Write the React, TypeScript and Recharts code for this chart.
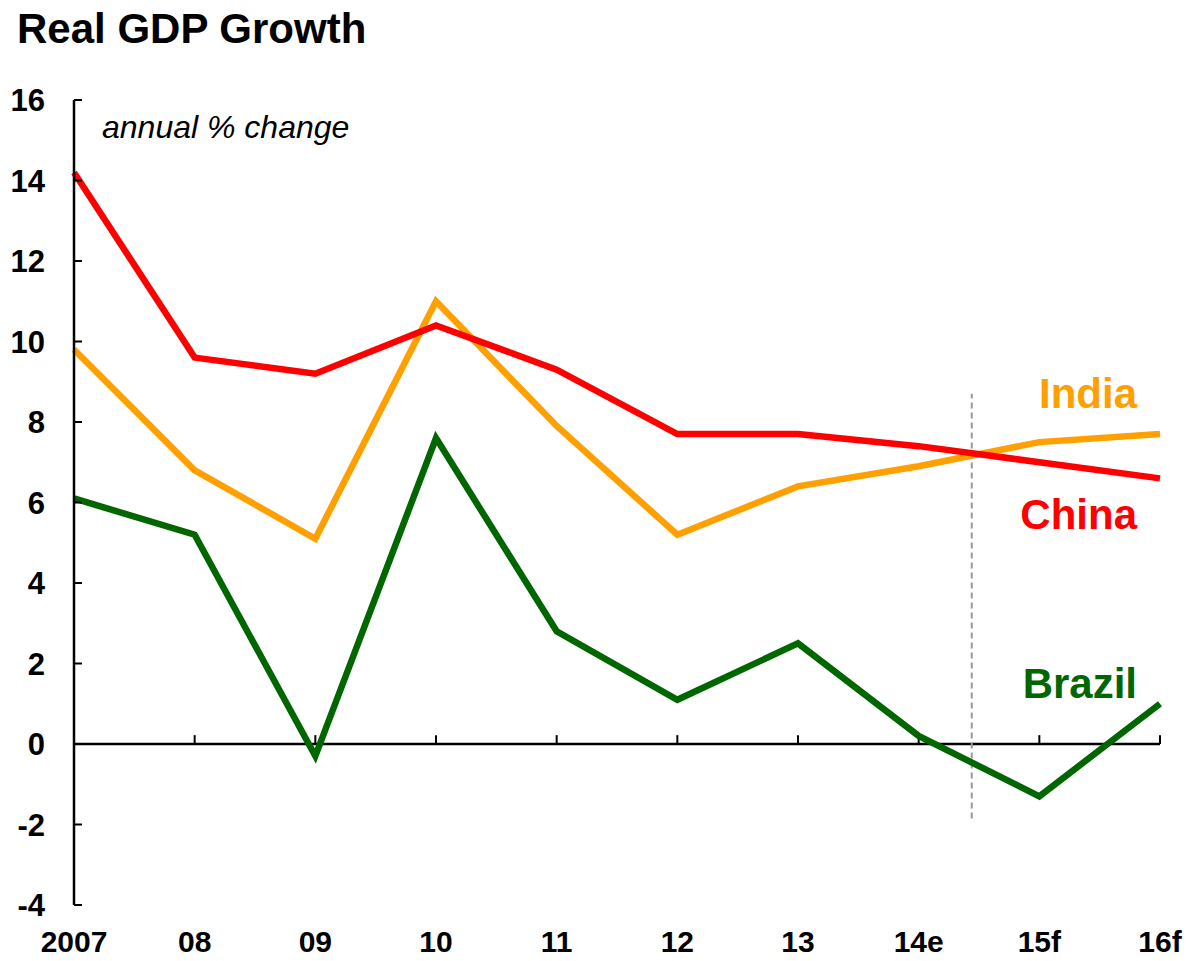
import React from 'react';
import { LineChart, Line, XAxis, YAxis, ReferenceLine, ReferenceDot } from 'recharts';

// Real GDP growth, annual % change
const years = ['2007', '08', '09', '10', '11', '12', '13', '14e', '15f', '16f'];
const china = [14.2, 9.6, 9.2, 10.4, 9.3, 7.7, 7.7, 7.4, 7.0, 6.6];
const india = [9.8, 6.8, 5.1, 11.0, 7.9, 5.2, 6.4, 6.9, 7.5, 7.7];
const brazil = [6.1, 5.2, -0.3, 7.6, 2.8, 1.1, 2.5, 0.2, -1.3, 1.0];
const yTicks = [-4, -2, 0, 2, 4, 6, 8, 10, 12, 14, 16];

// estimate / forecast divider (x in category index units, y range)
const dividerX = 7.44;
const dividerFrom = -1.85;
const dividerTo = 8.7;

// series name labels, placed at the right edge
const seriesLabels = [
  { name: 'India', y: 8.7, color: '#FFA000' },
  { name: 'China', y: 5.7, color: '#FF0000' },
  { name: 'Brazil', y: 1.5, color: '#006600' },
];

const data = years.map((label, i) => ({
  i,
  label,
  china: china[i],
  india: india[i],
  brazil: brazil[i],
}));

const font = '"Liberation Sans", Arial, sans-serif';

const NameLabel = (props: any) => {
  const { cx, cy, name, color } = props;
  return (
    <text
      x={cx - 23}
      y={cy}
      textAnchor="end"
      dominantBaseline="central"
      fill={color}
      fontSize={42}
      fontWeight="bold"
      fontFamily={font}
    >
      {name}
    </text>
  );
};

const App: React.FC = () => {
  return (
    <div style={{ position: 'absolute', left: 0, top: 0, width: 1188, height: 961, background: '#fff', fontFamily: font }}>
      <div style={{ position: 'absolute', left: 17, top: 6, fontSize: 42, lineHeight: '46px', fontWeight: 'bold', color: '#000' }}>
        Real GDP Growth
      </div>
      <div style={{ position: 'absolute', left: 102, top: 111, fontSize: 32, lineHeight: '32px', fontStyle: 'italic', color: '#000' }}>
        annual % change
      </div>
      <LineChart width={1188} height={961} data={data} margin={{ top: 100, right: 28, bottom: 0, left: 0 }}>
        <XAxis
          dataKey="i"
          type="number"
          domain={[0, 9]}
          ticks={data.map((d) => d.i)}
          tickFormatter={(v: number) => years[v]}
          axisLine={false}
          tickLine={false}
          tickSize={0}
          tickMargin={26}
          height={56}
          interval={0}
          tick={{ fill: '#000', fontSize: 30, fontWeight: 'bold', fontFamily: font }}
        />
        <YAxis
          type="number"
          domain={[-4, 16]}
          ticks={yTicks}
          width={74}
          interval={0}
          axisLine={{ stroke: '#000', strokeWidth: 2.5 }}
          tickLine={{ stroke: '#000', strokeWidth: 2 }}
          tickSize={-8}
          tickMargin={37}
          tick={{ fill: '#000', fontSize: 31, fontWeight: 'bold', fontFamily: font }}
        />
        <ReferenceLine y={0} stroke="#000" strokeWidth={2.5} />
        {data.slice(1).map((d) => (
          <ReferenceLine
            key={d.label}
            segment={[{ x: d.i, y: 0 }, { x: d.i, y: 0.22 }]}
            stroke="#000"
            strokeWidth={2}
          />
        ))}
        <ReferenceLine
          segment={[{ x: dividerX, y: dividerFrom }, { x: dividerX, y: dividerTo }]}
          stroke="#999"
          strokeWidth={2}
          strokeDasharray="6 4"
        />
        <Line type="linear" dataKey="india" stroke="#FFA000" strokeWidth={6.5} dot={false} isAnimationActive={false} />
        <Line type="linear" dataKey="china" stroke="#FF0000" strokeWidth={6.5} dot={false} isAnimationActive={false} />
        <Line type="linear" dataKey="brazil" stroke="#006600" strokeWidth={6.5} dot={false} isAnimationActive={false} />
        {seriesLabels.map((s) => (
          <ReferenceDot
            key={s.name}
            x={9}
            y={s.y}
            r={0}
            ifOverflow="visible"
            shape={(p: any) => <NameLabel {...p} name={s.name} color={s.color} />}
          />
        ))}
      </LineChart>
    </div>
  );
};

export default App;
